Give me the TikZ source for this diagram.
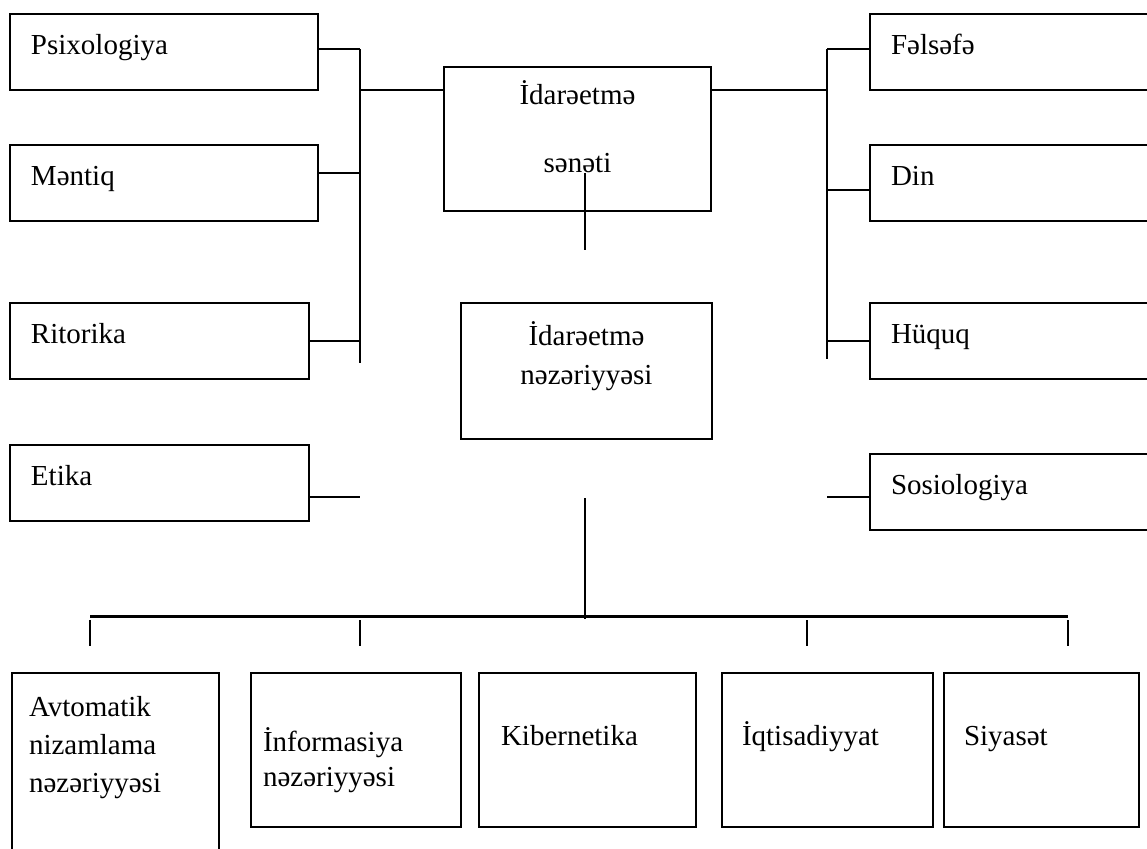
\documentclass[tikz,border=0pt]{standalone}
\usepackage{fontspec}
\setmainfont{Liberation Serif}
\usetikzlibrary{calc}

\begin{document}
\begin{tikzpicture}[x=0.5pt,y=-0.5pt,
  box/.style={draw,line width=1pt,anchor=north west,outer sep=0pt,
              inner xsep=10.5pt,inner ysep=0pt,align=left,text height=20pt,
              font=\fontsize{14.5pt}{17pt}\selectfont},
  link/.style={line width=1pt},
  bus/.style={line width=1.5pt}
]
\useasboundingbox (0,0) rectangle (1147,848);
% left column
\node[box,text width=133pt,text depth=18pt] (psix) at (10,14) {Psixologiya};
\node[box,text width=133pt,text depth=18pt] (mentiq) at (10,145) {Məntiq};
\node[box,text width=128.5pt,text depth=18pt] (ritorika) at (10,303) {Ritorika};
\node[box,text width=128.5pt,text depth=18pt] (etika) at (10,445) {Etika};
% right column
\node[box,text width=129pt,text depth=18pt] (felsefe) at (870,14) {Fəlsəfə};
\node[box,text width=129pt,text depth=18pt] (din) at (870,145) {Din};
\node[box,text width=129pt,text depth=18pt] (huquq) at (870,303) {Hüquq};
\node[box,text width=129pt,text depth=18pt] (sosio) at (870,454) {Sosiologiya};
% centre
\node[box,align=center,text width=112.5pt,text height=18.5pt,text depth=53.5pt] (sanati) at (444,67)
  {İdarəetmə\\[17pt]sənəti};
\node[box,align=center,text width=104.5pt,text height=21pt,text depth=47pt] (nezeriyye) at (461,303)
  {İdarəetmə\\[2.5pt]nəzəriyyəsi};
% bottom row
\node[box,inner xsep=8.5pt,text width=86.5pt,text height=21.5pt,text depth=82pt] (avtomatik) at (12,673)
  {Avtomatik\\[2pt]nizamlama\\[2pt]nəzəriyyəsi};
\node[box,inner xsep=6pt,text width=93pt,text height=39pt,text depth=38pt] (informasiya) at (251,673)
  {İnformasiya\\[0.5pt]nəzəriyyəsi};
\node[box,inner xsep=11pt,text width=86.5pt,text height=36pt,text depth=41pt] (kibernetika) at (479,673)
  {Kibernetika};
\node[box,inner xsep=10pt,text width=85.5pt,text height=36pt,text depth=41pt] (iqtisadiyyat) at (722,673)
  {İqtisadiyyat};
\node[box,inner xsep=10pt,text width=77.5pt,text height=36pt,text depth=41pt] (siyaset) at (944,673)
  {Siyasət};
% buses
\coordinate (ltop) at (360,49);
\coordinate (lbot) at (360,363);
\coordinate (rtop) at (827,49);
\coordinate (rbot) at (827,359);
\draw[link] (ltop) -- (lbot);
\draw[link] (rtop) -- (rbot);
\draw[link] ([yshift=1.5pt]psix.east) -- ++(42,0);
\draw[link] ([yshift=5pt]mentiq.east) -- ++(42,0);
\draw[link] (ritorika.east) -- ++(51,0);
\draw[link] ([yshift=-7pt]etika.east) -- ++(51,0);
\draw[link] ([yshift=1.5pt]felsefe.west) -- ++(-43,0);
\draw[link] ([yshift=-3.5pt]din.west) -- ++(-43,0);
\draw[link] (huquq.west) -- ++(-43,0);
\draw[link] ([yshift=-2.5pt]sosio.west) -- ++(-43,0);
\coordinate (lmid) at (360,90);
\coordinate (rmid) at (827,90);
\draw[link] (lmid) -- (lmid -| sanati.west);
\draw[link] (sanati.east |- rmid) -- (rmid);
% stems
\coordinate (stemtop) at (585,173);
\draw[link] (stemtop) -- ++(0,77);
\coordinate (stemlow) at (585,498);
\draw[link] (stemlow) -- ++(0,121);
\coordinate (busl) at (90,616);
\coordinate (busr) at (1068,616);
\draw[bus] (busl) -- (busr);
\foreach \x in {90,360,807,1068}
  \draw[link] (\x,620) -- ++(0,26);
\end{tikzpicture}
\end{document}
